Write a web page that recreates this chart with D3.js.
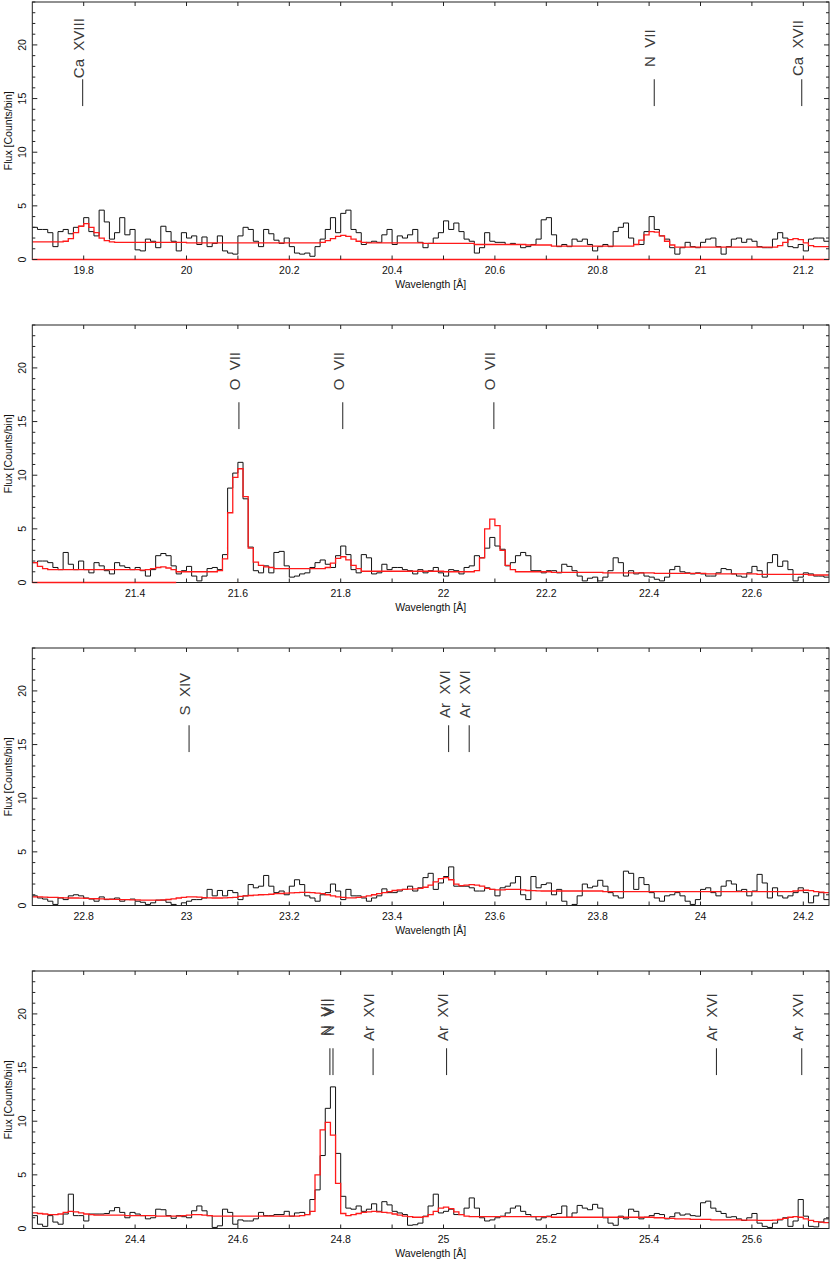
<!DOCTYPE html>
<html><head><meta charset="utf-8">
<script src="https://cdn.jsdelivr.net/npm/d3@7"></script>
<style>
body{margin:0;background:#fff}
svg{display:block}
text{font-family:"Liberation Sans",Arial,Helvetica,sans-serif}
</style>
</head><body>
<svg id="chart" width="830" height="1264"></svg>
<script>
// ---------------- DATA ----------------
const binWidth = 0.01;
const panelStarts = [19.70, 21.20, 22.70, 24.20];
const panelEnds   = [21.25, 22.75, 24.25, 25.75];
const yDomain = [0, 24];

// observed counts per bin (black histogram)
const counts1 = [
3.0,2.8,2.8,2.5,1.2,2.6,2.8,2.4,3.0,3.1, 3.9,2.6,2.2,4.6,3.5,1.9,2.5,3.9,2.3,2.8,
0.9,0.8,1.9,1.7,1.1,3.1,2.6,1.7,0.8,2.5, 2.0,2.2,1.4,2.1,1.2,1.5,2.2,0.8,0.6,0.5,
2.2,3.0,2.8,1.7,1.2,2.8,2.4,
1.8,1.5,2.0,1.2,0.6,0.5,0.6,0.3,1.2,1.9, 2.8,3.9,2.5,4.3,4.6,2.8,2.5,1.4,1.6,1.7,
1.6,2.3,2.8,1.4,2.2,2.0,2.3,2.8,1.6,1.1, 1.5,2.0,2.5,3.6,2.8,3.4,2.6,1.9,1.7,0.6,
1.1,2.5,1.7,1.6,1.6,1.4,1.5,1.4,1.1,1.2, 1.4,1.9,3.7,3.9,
2.3,1.2,1.4,1.2,1.9,1.7,1.9,1.4,0.8,1.2, 1.4,1.2,2.6,3.0,3.4,2.0,1.4,1.4,2.6,4.0,
2.8,2.2,1.9,1.1,0.5,1.1,1.6,1.2,1.1,1.6, 1.9,2.0,1.2,0.5,1.2,1.9,2.0,1.6,1.9,1.7,
1.2,1.1,1.1,1.9,2.5,2.0,1.2,1.1,1.4,0.8, 1.9,2.0,2.0,1.7];
const counts2 = [
1.85,2.0,2.0,1.85,1.4,1.2,2.8,1.7,1.2,2.0, 1.2,0.9,1.85,1.55,1.1,0.8,1.85,1.55,1.4,1.2,
1.4,1.1,0.6,1.2,2.5,2.7,2.5,1.55,0.8,1.1, 1.5,0.6,0.15,0.6,1.3,1.4,1.2,2.6,8.8,10.2,
11.2,7.8,3.3,1.1,0.9,1.55,0.9,
2.8,2.9,1.55,0.5,0.6,0.8,0.9,1.4,1.85,2.1, 1.7,1.4,2.5,3.4,2.6,1.2,0.9,2.6,2.3,0.8,
0.9,1.7,1.2,1.4,1.4,1.2,1.1,0.8,1.2,0.9, 1.1,1.4,0.9,0.6,1.2,1.1,0.8,1.4,1.55,2.5,
2.3,3.2,4.2,3.4,3.1,1.55,1.85,2.5,2.8,2.5, 1.1,1.1,0.9,1.1,
1.1,0.9,1.7,1.5,1.1,0.6,0.15,0.4,0.5,0.15, 0.5,1.1,2.3,1.85,0.6,1.1,0.8,0.9,0.6,0.5,
0.3,0.15,0.5,1.2,1.5,1.0,0.9,0.8,0.9,0.8, 0.6,0.6,0.9,1.3,1.2,0.8,0.6,0.5,0.9,1.5,
1.1,0.5,1.85,2.6,1.5,2.0,1.2,0.15,0.5,0.9, 0.8,0.6,0.6,0.5];
const counts3 = [
0.9,0.7,0.6,0.4,0.1,0.7,0.55,0.9,1.0,0.9, 0.7,0.6,0.4,0.8,0.55,0.6,0.7,0.4,0.55,0.6,
0.4,0.3,0.1,0.25,0.5,0.5,0.3,0.1,0.0,0.25, 0.4,0.55,0.55,0.7,1.5,0.9,1.4,0.9,1.4,1.2,
0.55,0.9,1.95,1.65,1.8,2.8,1.8,
1.2,1.35,1.0,1.8,2.4,1.95,0.9,0.7,0.4,1.0, 1.2,2.0,1.35,0.55,1.5,0.9,0.9,0.7,0.4,0.7,
0.9,1.55,1.2,1.2,1.35,1.5,1.8,1.35,1.65,2.6, 3.0,1.5,2.1,2.7,3.6,1.8,1.8,1.8,1.65,1.35,
1.35,1.65,1.5,0.9,1.65,1.8,2.1,2.7,1.0,0.55, 2.7,1.65,1.95,2.1,
1.0,1.5,0.4,0.0,0.1,0.9,2.0,1.65,1.8,2.35, 1.8,1.2,0.9,0.7,3.2,3.0,1.5,2.6,1.95,1.2,
0.7,0.4,0.9,1.0,1.2,0.9,0.4,0.1,0.55,1.5, 1.65,1.2,0.9,1.8,2.3,2.0,1.35,1.5,0.9,1.35,
2.9,2.1,0.7,1.65,0.9,0.7,0.9,1.2,1.65,1.2, 0.25,0.9,1.2,0.55];
const counts4 = [
1.2,0.4,0.2,1.2,0.6,0.4,1.35,3.2,1.2,1.2, 0.7,1.35,1.35,1.35,1.4,1.65,1.95,1.5,1.0,1.5,
1.35,1.2,0.9,1.0,1.8,1.75,1.2,0.95,1.2,1.1, 1.0,1.65,2.1,1.65,1.2,0.1,0.25,1.8,1.5,0.4,
0.8,0.7,0.7,0.9,1.5,1.2,1.2,
1.3,1.3,1.6,1.15,1.45,1.5,1.3,2.7,3.6,6.8, 11.2,13.2,7.0,3.0,1.9,1.8,2.1,1.6,1.8,2.3,
1.6,2.5,2.2,1.6,1.45,1.3,0.3,0.35,0.5,1.15, 2.1,3.2,1.45,1.6,1.8,1.3,1.3,1.9,2.85,1.9,
1.0,0.7,0.8,1.0,1.15,1.45,1.9,2.1,1.6,1.3, 1.1,0.8,1.0,1.15,
1.3,1.4,2.1,1.05,1.45,2.15,1.9,1.75,2.25,1.9, 1.0,0.5,0.3,1.15,0.9,1.8,1.6,0.9,1.05,1.2,
1.4,1.3,0.9,1.1,1.45,1.25,1.35,1.2,1.15,2.4, 2.55,1.9,1.6,1.4,1.05,1.1,0.9,0.75,1.0,1.4,
0.5,0.2,0.1,0.5,0.8,1.0,0.2,0.7,2.7,1.15, 0.2,0.15,0.6,0.9];

// model per bin (red)
const model1 = [
1.65,1.65,1.65,1.65,1.65,1.65,1.7,1.95,2.5,3.1, 3.35,3.0,2.5,2.0,1.75,1.65,1.6,1.6,1.6,1.6,
1.6,1.6,1.6,1.6,1.6,1.6,1.6,1.6,1.6,1.6, 1.55,1.55,1.55,1.55,1.55,1.55,1.55,1.55,1.55,1.55,
1.55,1.55,1.55,1.55,1.55,1.55,1.55,1.55,1.55,1.55, 1.55,1.55,1.55,1.55,1.55,1.55,1.6,1.75,1.95,2.15,
2.25,2.15,1.9,1.7,1.6,1.55,1.55,1.55,1.55,1.55, 1.55,1.55,1.55,1.55,1.55,1.55,1.5,1.5,1.5,1.5,
1.5,1.5,1.5,1.5,1.5,1.5,1.4,1.4,1.4,1.4, 1.4,1.4,1.4,1.4,1.4,1.4,1.35,1.35,1.35,1.35,
1.35,
1.25,1.25,1.25,1.25,1.25,1.25,1.25,1.25,1.25,1.25, 1.25,1.25,1.25,1.25,1.25,1.25,1.4,1.8,2.3,2.6,
2.55,2.2,1.7,1.35,1.15,1.15,1.15,1.15,1.15,1.15, 1.15,1.15,1.15,1.15,1.15,1.15,1.15,1.15,1.15,1.15,
1.15,1.15,1.15,1.15,1.3,1.6,1.85,1.95,1.85,1.55, 1.3,1.2,1.2,1.2];
const model2 = [
1.85,1.5,1.3,1.2,1.2,1.2,1.2,1.2,1.2,1.2, 1.2,1.2,1.2,1.2,1.2,1.2,1.2,1.2,1.2,1.2,
1.2,1.15,1.2,1.3,1.4,1.45,1.35,1.2,1.0,1.0, 1.0,1.0,1.0,1.0,1.0,1.0,1.1,2.2,6.5,9.8,
10.6,8.0,3.2,1.9,1.6,1.45,1.4,
1.3,1.3,1.3,1.3,1.3,1.3,1.3,1.3,1.3,1.3, 1.4,1.8,2.25,2.4,2.1,1.6,1.3,1.05,1.05,1.05,
1.05,1.05,1.05,1.05,1.05,1.05,1.05,1.05,1.05,1.05, 1.05,1.05,1.05,1.0,1.0,1.0,1.0,1.0,1.0,1.1,
2.3,5.0,5.9,5.3,3.0,1.6,1.2,1.0,1.0,1.0, 1.0,1.0,1.0,1.0,
0.95,0.95,0.95,0.95,0.95,0.95,0.95,0.95,0.95,0.95, 0.9,0.9,0.9,0.9,0.9,0.9,0.9,0.9,0.9,0.9,
0.85,0.85,0.85,0.85,0.85,0.85,0.85,0.85,0.85,0.85, 0.8,0.8,0.8,0.8,0.8,0.8,0.8,0.8,0.8,0.8,
0.75,0.75,0.75,0.75,0.75,0.75,0.75,0.75,0.75,0.75, 0.7,0.7,0.7,0.7];
const model3 = [
0.8,0.8,0.78,0.76,0.75,0.73,0.72,0.7,0.7,0.68, 0.66,0.65,0.63,0.62,0.6,0.58,0.57,0.55,0.55,0.53,
0.52,0.5,0.5,0.5,0.5,0.52,0.56,0.62,0.7,0.76, 0.8,0.8,0.78,0.74,0.72,0.7,0.7,0.72,0.74,0.76,
0.85,0.9,0.93,0.96,1.0,1.02,1.05,
1.1,1.12,1.15,1.18,1.2,1.22,1.22,1.2,1.15,1.1, 1.0,0.9,0.8,0.75,0.72,0.72,0.75,0.8,0.9,1.0,
1.1,1.2,1.3,1.4,1.45,1.5,1.52,1.55,1.6,1.7, 1.9,2.2,2.5,2.6,2.4,2.0,1.85,1.9,1.95,1.9,
1.8,1.6,1.5,1.45,1.45,1.5,1.5,1.5,1.45,1.4, 1.38,1.36,1.35,1.35,
1.35,1.35,1.35,1.35,1.35,1.35,1.35,1.35,1.35,1.35, 1.3,1.3,1.3,1.3,1.3,1.3,1.3,1.3,1.3,1.3,
1.3,1.3,1.3,1.3,1.3,1.3,1.3,1.3,1.3,1.3, 1.3,1.3,1.3,1.3,1.3,1.3,1.3,1.3,1.3,1.3,
1.3,1.3,1.3,1.3,1.3,1.3,1.3,1.35,1.4,1.42, 1.38,1.3,1.25,1.2];
const model4 = [
1.45,1.4,1.35,1.3,1.3,1.35,1.5,1.6,1.55,1.45, 1.35,1.3,1.25,1.25,1.25,1.25,1.25,1.25,1.2,1.2,
1.2,1.2,1.2,1.2,1.15,1.15,1.15,1.15,1.15,1.2, 1.25,1.3,1.3,1.25,1.2,1.15,1.15,1.15,1.15,1.15,
1.15,1.15,1.15,1.15,1.15,1.15,1.15,
1.15,1.15,1.15,1.15,1.15,1.2,1.3,1.6,5.0,9.2, 9.9,8.7,4.2,1.4,1.2,1.3,1.4,1.5,1.55,1.6,
1.55,1.5,1.45,1.35,1.25,1.15,1.1,1.05,1.05,1.1, 1.3,1.6,1.9,2.0,1.85,1.55,1.3,1.15,1.1,1.1,
1.1,1.1,1.1,1.1,1.1,1.1,1.1,1.1,1.1,1.1, 1.1,1.1,1.1,1.1,
1.05,1.05,1.05,1.05,1.05,1.05,1.05,1.05,1.05,1.05, 1.05,1.05,1.05,1.05,1.05,1.05,1.05,1.05,1.05,1.05,
1.0,1.0,0.95,0.95,0.9,0.9,0.9,0.85,0.85,0.85, 0.85,0.8,0.8,0.8,0.8,0.8,0.8,0.78,0.78,0.78,
0.75,0.75,0.75,0.78,0.85,0.95,1.05,1.1,1.05,0.9, 0.75,0.65,0.6,0.55];

// red zero-level model segment
const zeroModelRange = [19.70, 21.48];

// line identifications
const lineNames1 = ["Ca  XVIII", "N  VII", "Ca  XVII"];
const lineWaves1 = [19.798, 20.910, 21.197];
const lineNames2 = ["O  VII", "O  VII", "O  VII"];
const lineWaves2 = [21.602, 21.804, 22.098];
const lineNames3 = ["S  XIV", "Ar  XVI", "Ar  XVI"];
const lineWaves3 = [23.005, 23.510, 23.550];
const lineNames4 = ["N  VII", "N  VII", "Ar  XVI", "Ar  XVI", "Ar  XVI", "Ar  XVI"];
const lineWaves4 = [24.779, 24.785, 24.863, 25.006, 25.531, 25.697];

// tick labels
const yTickValues = [0, 5, 10, 15, 20];
const xTicks1 = [19.8, 20, 20.2, 20.4, 20.6, 20.8, 21, 21.2];
const xTicks2 = [21.4, 21.6, 21.8, 22, 22.2, 22.4, 22.6];
const xTicks3 = [22.8, 23, 23.2, 23.4, 23.6, 23.8, 24, 24.2];
const xTicks4 = [24.4, 24.6, 24.8, 25, 25.2, 25.4, 25.6];

const yTitle = "Flux [Counts/bin]";
const xTitle = "Wavelength [Å]";

// ---------------- DRAW ----------------
const countsAll = [counts1, counts2, counts3, counts4];
const modelAll = [model1, model2, model3, model4];
const namesAll = [lineNames1, lineNames2, lineNames3, lineNames4];
const wavesAll = [lineWaves1, lineWaves2, lineWaves3, lineWaves4];
const xTicksAll = [xTicks1, xTicks2, xTicks3, xTicks4];

const svg = d3.select("#chart");
const L = 32.3, R = 829, H = 257.5;
const tops = [2, 325, 648, 971];
const fmt = d3.format("~g");

function stepPoints(start, vals) {
  const pts = vals.map((v, i) => [start + i * binWidth, v]);
  pts.push([start + vals.length * binWidth, vals[vals.length - 1]]);
  return pts;
}

panelStarts.forEach((start, p) => {
  const top = tops[p], bottom = top + H;
  const x = d3.scaleLinear().domain([start, panelEnds[p]]).range([L, R]);
  const y = d3.scaleLinear().domain(yDomain).range([bottom, top]);
  const g = svg.append("g");

  g.append("clipPath").attr("id", "clip" + p)
    .append("rect").attr("x", L).attr("y", top).attr("width", R - L).attr("height", H);

  const line = d3.line().x(d => x(d[0])).y(d => y(d[1])).curve(d3.curveStepAfter);

  const plot = g.append("g").attr("clip-path", `url(#clip${p})`);
  plot.append("path").attr("d", line(stepPoints(start, countsAll[p])))
    .attr("fill", "none").attr("stroke", "#111").attr("stroke-width", 1);
  plot.append("path").attr("d", line(stepPoints(start, modelAll[p])))
    .attr("fill", "none").attr("stroke", "#ff1a1a").attr("stroke-width", 1.3);

  // frame
  g.append("rect").attr("x", L).attr("y", top).attr("width", R - L).attr("height", H)
    .attr("fill", "none").attr("stroke", "#222").attr("stroke-width", 1);

  // zero-level red model
  const z0 = Math.max(zeroModelRange[0], start), z1 = Math.min(zeroModelRange[1], panelEnds[p]);
  if (z1 > z0) {
    g.append("line").attr("x1", x(z0)).attr("x2", x(z1)).attr("y1", y(0)).attr("y2", y(0))
      .attr("stroke", "#ff1a1a").attr("stroke-width", 1.5);
  }

  // y ticks (minor every 1, major every 5), left and right
  d3.range(0, 25, 1).forEach(v => {
    const len = v % 5 === 0 ? 5 : 3;
    g.append("line").attr("x1", L).attr("x2", L + len).attr("y1", y(v)).attr("y2", y(v))
      .attr("stroke", "#222").attr("stroke-width", 1);
    g.append("line").attr("x1", R).attr("x2", R - len).attr("y1", y(v)).attr("y2", y(v))
      .attr("stroke", "#222").attr("stroke-width", 1);
  });
  // x ticks every 0.1, top and bottom
  const xt = d3.range(Math.ceil(start * 10 - 1e-6), Math.floor(panelEnds[p] * 10 + 1e-6) + 1).map(k => k / 10)
    .filter(v => v > start + 1e-6 && v < panelEnds[p] - 1e-6);
  xt.forEach(v => {
    g.append("line").attr("x1", x(v)).attr("x2", x(v)).attr("y1", bottom).attr("y2", bottom - 4)
      .attr("stroke", "#222").attr("stroke-width", 1);
    g.append("line").attr("x1", x(v)).attr("x2", x(v)).attr("y1", top).attr("y2", top + 4)
      .attr("stroke", "#222").attr("stroke-width", 1);
  });

  // y tick labels (rotated)
  yTickValues.forEach(v => {
    g.append("text").attr("transform", `translate(25.5,${y(v)}) rotate(-90)`)
      .attr("text-anchor", "middle").attr("font-size", 10.5).attr("fill", "#111").text(v);
  });
  // x tick labels
  xTicksAll[p].forEach(v => {
    g.append("text").attr("x", x(v)).attr("y", bottom + 14.5)
      .attr("text-anchor", "middle").attr("font-size", 10.5).attr("fill", "#111").text(fmt(v));
  });
  // axis titles
  g.append("text").attr("transform", `translate(12,${top + H / 2}) rotate(-90)`)
    .attr("text-anchor", "middle").attr("font-size", 10.5).attr("fill", "#111").text(yTitle);
  g.append("text").attr("x", (L + R) / 2).attr("y", bottom + 28)
    .attr("text-anchor", "middle").attr("font-size", 10.5).attr("fill", "#111").text(xTitle);

  // line identifications
  wavesAll[p].forEach((w, i) => {
    g.append("line").attr("x1", x(w)).attr("x2", x(w)).attr("y1", y(14.3)).attr("y2", y(16.8))
      .attr("stroke", "#222").attr("stroke-width", 1);
    g.append("text").attr("transform", `translate(${x(w) + 1},${y(19.7)}) rotate(-90)`)
      .attr("text-anchor", "middle").attr("font-size", 15).attr("fill", "#3a3a3a")
      .style("white-space", "pre").text(namesAll[p][i]);
  });
});
</script>
</body></html>
